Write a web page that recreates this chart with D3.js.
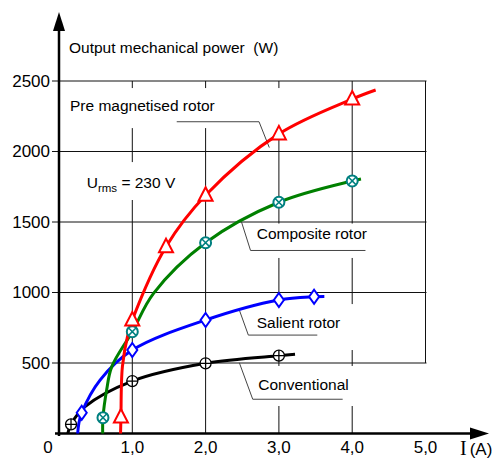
<!DOCTYPE html>
<html><head><meta charset="utf-8">
<script src="https://cdn.jsdelivr.net/npm/d3@7"></script>
<style>
html,body{margin:0;padding:0;background:#fff;}
svg{display:block;}
text{font-family:Arial,"Liberation Sans",sans-serif;fill:#000;}
</style></head>
<body>
<svg id="c" width="496" height="459"></svg>
<script>
// ---- data ----
const xTicks = [1, 2, 3, 4, 5];
const xTickLabels = ["1,0", "2,0", "3,0", "4,0", "5,0"];
const yTicks = [500, 1000, 1500, 2000, 2500];
const yTickLabels = ["500", "1000", "1500", "2000", "2500"];

const preCurve = [[0.84,0],[0.845,117],[0.865,474],[0.945,713],[1.0,805],[1.46,1325],[2.0,1690],[3.0,2125],[4.0,2372],[4.32,2436]];
const preMarkers = [[0.845,117],[1.0,805],[1.46,1325],[2.0,1690],[3.0,2125],[4.0,2372]];

const compCurve = [[0.596,0],[0.60,112],[0.65,308],[0.72,474],[1.0,722],[1.29,994],[2.0,1353],[3.0,1640],[4.0,1791],[4.12,1805]];
const compMarkers = [[0.60,112],[1.0,722],[2.0,1353],[3.0,1640],[4.0,1791]];

const salCurve = [[0.255,0],[0.27,70],[0.31,147],[0.56,379],[1.0,592],[2.0,805],[3.0,947],[3.48,970],[3.62,972]];
const salMarkers = [[0.31,147],[1.0,592],[2.0,805],[3.0,947],[3.48,970]];

const convCurve = [[0.12,0],[0.164,65],[0.355,190],[1.0,372],[2.0,498],[3.0,552],[3.22,562]];
const convMarkers = [[0.164,65],[1.0,372],[2.0,498],[3.0,552]];

const labels = [
  {text:"Pre magnetised rotor", x:0.15, y:2289, box:[0.04,2450,3.15,2166], leader:[[1.606,2211],[2.729,2211],[2.869,2028]]},
  {text:"Composite rotor", x:2.697, y:1377, box:[2.537,1489,4.27,1245], leader:[[2.49,1500],[2.613,1298],[4.181,1298]]},
  {text:"Salient rotor", x:2.697, y:750, box:[2.537,918,4.243,592], leader:[[2.46,876],[2.583,698],[3.524,698]]},
  {text:"Conventional", x:2.719, y:308, box:[2.537,479,4.243,195], leader:[[2.46,502],[2.643,243],[3.87,243]]}
];
const uBox = [0.218,1925,1.719,1656];

// ---- scales ----
const svg = d3.select("#c");
const x = d3.scaleLinear().domain([0,5]).range([59,425.5]);
const y = d3.scaleLinear().domain([0,2500]).range([433.5,81]);

// gridlines
const g = svg.append("g");
g.selectAll("line.h").data(yTicks).join("line")
  .attr("x1",52).attr("x2",x(5)+1).attr("y1",d=>y(d)).attr("y2",d=>y(d))
  .attr("stroke","#111").attr("stroke-width",1);
g.selectAll("line.v").data(xTicks).join("line")
  .attr("x1",d=>x(d)).attr("x2",d=>x(d))
  .attr("y1",d=>d===5?y(500):y(0)).attr("y2",y(2500))
  .attr("stroke","#111").attr("stroke-width",1);

// white boxes behind labels
const boxes = labels.map(l=>l.box).concat([uBox]);
svg.selectAll("rect.bx").data(boxes).join("rect")
  .attr("x",d=>x(d[0])).attr("y",d=>y(d[1]))
  .attr("width",d=>x(d[2])-x(d[0])).attr("height",d=>y(d[3])-y(d[1]))
  .attr("fill","#fff");

// leader lines
const ln = d3.line().x(d=>x(d[0])).y(d=>y(d[1]));
svg.selectAll("path.ld").data(labels).join("path")
  .attr("d",d=>ln(d.leader)).attr("fill","none").attr("stroke","#444").attr("stroke-width",1);
svg.selectAll("text.lb").data(labels).join("text")
  .attr("x",d=>x(d.x)).attr("y",d=>y(d.y)).attr("font-size",15.5).text(d=>d.text);

// Urms label
const ut = svg.append("text").attr("x",x(0.378)).attr("y",y(1739)).attr("font-size",15.5);
ut.append("tspan").text("U");
ut.append("tspan").attr("font-size",11.5).attr("dy",3.5).text("rms");
ut.append("tspan").attr("dy",-3.5).text(" = 230 V");

// title
svg.append("text").attr("x",x(0.136)).attr("y",y(2698)).attr("font-size",15.5)
  .attr("xml:space","preserve").text("Output mechanical power  (W)");

// axes
svg.append("line").attr("x1",x(0)).attr("x2",x(0)).attr("y1",436).attr("y2",28)
  .attr("stroke","#000").attr("stroke-width",2.5);
svg.append("path").attr("d",`M${x(0)},12 L${x(0)+6},31 L${x(0)-6},31 Z`).attr("fill","#000");
svg.append("line").attr("x1",55).attr("x2",473).attr("y1",y(0)).attr("y2",y(0))
  .attr("stroke","#000").attr("stroke-width",2.5);
svg.append("path").attr("d",`M489,${y(0)} L470,${y(0)-6} L470,${y(0)+6} Z`).attr("fill","#000");

// tick labels
svg.selectAll("text.yt").data(yTicks).join("text")
  .attr("x",50).attr("y",d=>y(d)).attr("dy","0.33em").attr("text-anchor","end")
  .attr("font-size",17).text((d,i)=>yTickLabels[i]);
svg.selectAll("text.xt").data(xTicks).join("text")
  .attr("x",d=>x(d)).attr("y",453).attr("text-anchor","middle")
  .attr("font-size",17).text((d,i)=>xTickLabels[i]);
svg.append("text").attr("x",48).attr("y",453).attr("text-anchor","middle").attr("font-size",17).text("0");
const xl = svg.append("text").attr("x",460).attr("y",455);
xl.append("tspan").attr("font-family","'Liberation Serif','Times New Roman',serif").attr("font-size",20).text("I");
xl.append("tspan").attr("dx",3).attr("font-size",17).text("(A)");

// curves
const cl = d3.line().x(d=>x(d[0])).y(d=>y(d[1])).curve(d3.curveCatmullRom.alpha(0.5));
const series = [
  {c:convCurve, col:"#000"},
  {c:salCurve, col:"#0000ff"},
  {c:compCurve, col:"#008000"},
  {c:preCurve, col:"#ff0000"}
];
svg.selectAll("path.cv").data(series).join("path")
  .attr("d",d=>cl(d.c)).attr("fill","none").attr("stroke",d=>d.col).attr("stroke-width",3)
  .attr("stroke-linejoin","round");

// markers
// conventional: circle plus
const cm = svg.selectAll("g.cm").data(convMarkers).join("g")
  .attr("transform",d=>`translate(${x(d[0])},${y(d[1])})`);
cm.append("circle").attr("r",5.5).attr("fill","#fff").attr("stroke","#000").attr("stroke-width",1.3);
cm.append("path").attr("d","M-5.5,0H5.5M0,-5.5V5.5").attr("stroke","#000").attr("stroke-width",1.3);

// salient: diamonds
svg.selectAll("path.sm").data(salMarkers).join("path")
  .attr("transform",d=>`translate(${x(d[0])},${y(d[1])})`)
  .attr("d","M0,-7L5,0L0,7L-5,0Z").attr("fill","#fff").attr("stroke","#0000ff").attr("stroke-width",2);

// composite: circle x
const km = svg.selectAll("g.km").data(compMarkers).join("g")
  .attr("transform",d=>`translate(${x(d[0])},${y(d[1])})`);
km.append("circle").attr("r",5.5).attr("fill","#fff").attr("stroke","#008080").attr("stroke-width",2);
km.append("path").attr("d","M-3.9,-3.9L3.9,3.9M-3.9,3.9L3.9,-3.9").attr("stroke","#008080").attr("stroke-width",1.5);

// pre magnetised: triangles
svg.selectAll("path.pm").data(preMarkers).join("path")
  .attr("transform",d=>`translate(${x(d[0])},${y(d[1])})`)
  .attr("d","M0,-8L7,5.5L-7,5.5Z").attr("fill","#fff").attr("stroke","#ff0000").attr("stroke-width",2);
</script>
</body></html>
